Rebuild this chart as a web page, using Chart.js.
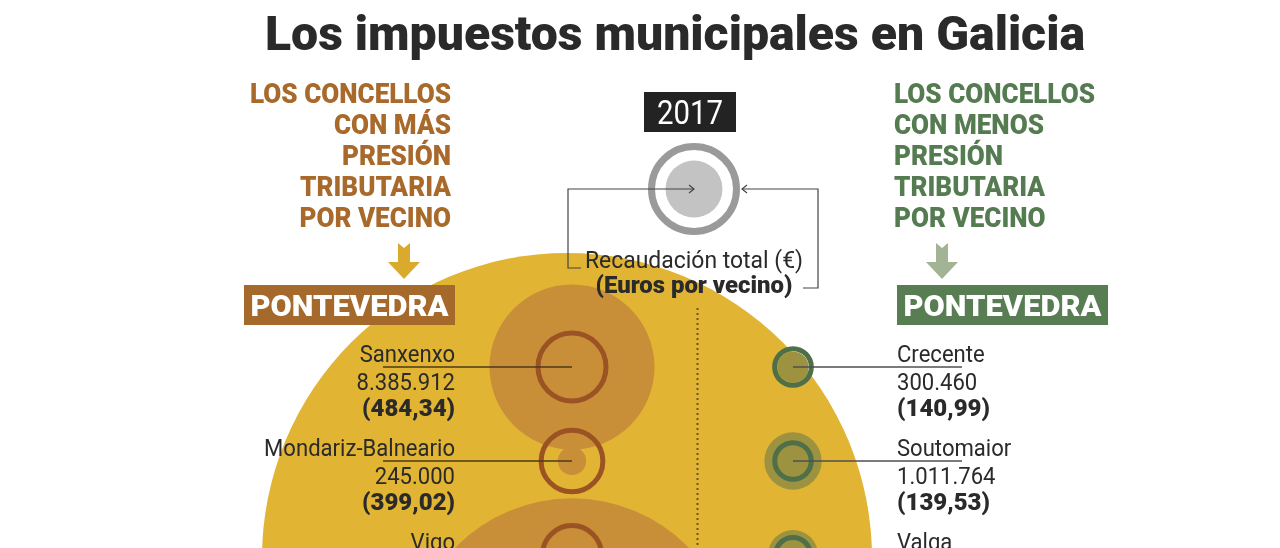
<!DOCTYPE html>
<html>
<head>
<meta charset="utf-8">
<script src="https://cdn.jsdelivr.net/npm/chart.js@4.4.1/dist/chart.umd.min.js"></script>
<style>
html,body{margin:0;padding:0;background:#fff;}
#wrap{width:1280px;height:548px;position:relative;overflow:hidden;}
</style>
</head>
<body>
<div id="wrap"><canvas id="c" width="1280" height="548"></canvas></div>
<script>
// ---- data ----
const titleText = 'Los impuestos municipales en Galicia';
const yearLabel = '2017';
const province = 'PONTEVEDRA';
const leftHeading = ['LOS CONCELLOS', 'CON MÁS', 'PRESIÓN', 'TRIBUTARIA', 'POR VECINO'];
const rightHeading = ['LOS CONCELLOS', 'CON MENOS', 'PRESIÓN', 'TRIBUTARIA', 'POR VECINO'];
const legendTotalLabel = 'Recaudación total (€)';
const legendPerLabel = '(Euros por vecino)';

const leftNames = ['Sanxenxo', 'Mondariz-Balneario', 'Vigo'];
const leftTotal = [8385912, 245000, 32700000];
const leftPerVecino = [484.34, 399.02, 364.00];

const rightNames = ['Crecente', 'Soutomaior', 'Valga'];
const rightTotal = [300460, 1011764, 770000];
const rightPerVecino = [140.99, 139.53, 128.00];

// ---- layout / style ----
const W = 1280, H = 548;
const X0_PX = 572, X_UNIT_PX = 221;
const ROW0_PX = 367, ROW_PX = 94;
const FILL_K = 82.5 / Math.sqrt(8385912);
const RING_K = 34 / Math.sqrt(484.34);
const RING_W = 5;
const C = {
  yellow: '#e1b433', fillL: '#c98e38', ringL: '#9b5324',
  fillR: '#9c9240', ringR: '#4e6f47',
  brown: '#a8692b', green: '#557b51', arrowL: '#d9aa2c', arrowR: '#a3b494',
  dark: '#2a2a2a', dots: '#6f5522'
};

function fmtInt(n) { return String(Math.round(n)).replace(/\B(?=(\d{3})+(?!\d))/g, '.'); }
function fmtDec(v) { return '(' + v.toFixed(2).replace('.', ',') + ')'; }

function fillRows(totals, pers) {
  const ys = [];
  for (let i = 0; i < totals.length; i++) {
    const r = FILL_K * Math.sqrt(totals[i]);
    let y = i;
    if (i > 0) {
      const prevBottom = (i - 1) + (RING_K * Math.sqrt(pers[i - 1]) + RING_W / 2) / ROW_PX;
      y = Math.max(i, prevBottom + (4 + r) / ROW_PX);
    }
    ys.push(y);
  }
  return ys;
}
const leftFillY = fillRows(leftTotal, leftPerVecino);
const rightFillY = fillRows(rightTotal, rightPerVecino);

function txt(ctx, text, x, y, font, color, align, sx) {
  ctx.save();
  ctx.font = font; ctx.fillStyle = color; ctx.textAlign = align; ctx.textBaseline = 'alphabetic';
  ctx.translate(x, y); ctx.scale(sx || 1, 1);
  ctx.fillText(text, 0, 0);
  ctx.restore();
}
function scaleFor(ctx, text, font, width) {
  ctx.save(); ctx.font = font; const w = ctx.measureText(text).width; ctx.restore();
  return width / w;
}
function arrowDown(ctx, cx, top, bottom, color) {
  const stemW = 12, headW = 32, headH = 17, notch = 5;
  ctx.save(); ctx.fillStyle = color; ctx.beginPath();
  ctx.moveTo(cx - stemW / 2, top);
  ctx.lineTo(cx, top + notch);
  ctx.lineTo(cx + stemW / 2, top);
  ctx.lineTo(cx + stemW / 2, bottom - headH);
  ctx.lineTo(cx + headW / 2, bottom - headH);
  ctx.lineTo(cx, bottom);
  ctx.lineTo(cx - headW / 2, bottom - headH);
  ctx.lineTo(cx - stemW / 2, bottom - headH);
  ctx.closePath(); ctx.fill(); ctx.restore();
}
function chevron(ctx, x, y, dir) {
  ctx.beginPath();
  ctx.moveTo(x - dir * 5, y - 4); ctx.lineTo(x, y); ctx.lineTo(x - dir * 5, y + 4);
  ctx.stroke();
}

const deco = {
  id: 'deco',
  beforeDatasetsDraw(chart) {
    const ctx = chart.ctx;
    const xs = chart.scales.x;
    // big yellow disc
    ctx.save();
    ctx.fillStyle = C.yellow;
    ctx.beginPath();
    ctx.arc(xs.getPixelForValue(0) - 5, 558, 305, 0, Math.PI * 2);
    ctx.fill();
    // dotted separator
    const sepX = xs.getPixelForValue(0.5) + 14;
    ctx.fillStyle = C.dots;
    for (let y = 308; y < H; y += 5) ctx.fillRect(sepX, y, 2, 2);
    ctx.restore();
  },
  afterDatasetsDraw(chart) {
    const ctx = chart.ctx;
    const xs = chart.scales.x, ys = chart.scales.y;
    const lx = xs.getPixelForValue(0), rx = xs.getPixelForValue(1);
    const F = '"Roboto", "Liberation Sans", sans-serif';
    ctx.save();
    ctx.lineWidth = 1.5;
    leftNames.forEach((n, i) => {
      const py = ys.getPixelForValue(i);
      ctx.strokeStyle = '#4b3a1c';
      ctx.beginPath(); ctx.moveTo(383, py); ctx.lineTo(lx, py); ctx.stroke();
      txt(ctx, n, 455, py - 5, '400 24px ' + F, C.dark, 'right', 0.92);
      txt(ctx, fmtInt(leftTotal[i]), 455, py + 23, '400 24px ' + F, C.dark, 'right', 0.92);
      txt(ctx, fmtDec(leftPerVecino[i]), 455, py + 49, '900 24px ' + F, C.dark, 'right', 1.0);
    });
    rightNames.forEach((n, i) => {
      const py = ys.getPixelForValue(i);
      ctx.strokeStyle = '#4f4f4f';
      ctx.beginPath(); ctx.moveTo(rx, py); ctx.lineTo(962, py); ctx.stroke();
      txt(ctx, n, 897, py - 5, '400 24px ' + F, C.dark, 'left', 0.92);
      txt(ctx, fmtInt(rightTotal[i]), 897, py + 23, '400 24px ' + F, C.dark, 'left', 0.92);
      txt(ctx, fmtDec(rightPerVecino[i]), 897, py + 49, '900 24px ' + F, C.dark, 'left', 1.0);
    });
    ctx.restore();
  },
  afterDraw(chart) {
    const ctx = chart.ctx;
    const F = '"Roboto", "Liberation Sans", sans-serif';
    ctx.save();
    const tf = '900 48px ' + F;
    txt(ctx, titleText, 265, 50, tf, C.dark, 'left', scaleFor(ctx, titleText, tf, 820));
    const hf = '900 28px ' + F;
    const hs = scaleFor(ctx, leftHeading[0], hf, 201);
    leftHeading.forEach((t, i) => txt(ctx, t, 451, 103 + i * 31, hf, C.brown, 'right', hs));
    rightHeading.forEach((t, i) => txt(ctx, t, 894, 103 + i * 31, hf, C.green, 'left', hs));
    arrowDown(ctx, 404, 243, 279, C.arrowL);
    arrowDown(ctx, 942, 243, 279, C.arrowR);
    const pf = '900 30px ' + F;
    const ps = scaleFor(ctx, province, pf, 198);
    ctx.fillStyle = '#a6692c'; ctx.fillRect(244, 285, 211, 40);
    txt(ctx, province, 349.5, 316, pf, '#ffffff', 'center', ps);
    ctx.fillStyle = '#587d53'; ctx.fillRect(897, 285, 211, 40);
    txt(ctx, province, 1002.5, 316, pf, '#ffffff', 'center', ps);
    ctx.fillStyle = '#232323'; ctx.fillRect(644, 92, 92, 40);
    const yf = '400 33px ' + F;
    txt(ctx, yearLabel, 690, 124, yf, '#ffffff', 'center', scaleFor(ctx, yearLabel, yf, 66));
    ctx.fillStyle = '#c3c3c3';
    ctx.beginPath(); ctx.arc(694, 189, 28.5, 0, Math.PI * 2); ctx.fill();
    ctx.strokeStyle = '#9a9a9a'; ctx.lineWidth = 7;
    ctx.beginPath(); ctx.arc(694, 189, 42.5, 0, Math.PI * 2); ctx.stroke();
    ctx.strokeStyle = '#444'; ctx.lineWidth = 1.2;
    ctx.beginPath(); ctx.moveTo(581, 268); ctx.lineTo(568, 268); ctx.lineTo(568, 189); ctx.lineTo(694, 189); ctx.stroke();
    chevron(ctx, 694, 189, 1);
    ctx.beginPath(); ctx.moveTo(803, 288); ctx.lineTo(818, 288); ctx.lineTo(818, 189); ctx.lineTo(742, 189); ctx.stroke();
    chevron(ctx, 742, 189, -1);
    const l1 = '400 24px ' + F, l2 = '900 23px ' + F;
    txt(ctx, legendTotalLabel, 694, 268, l1, C.dark, 'center', scaleFor(ctx, legendTotalLabel, l1, 218));
    txt(ctx, legendPerLabel, 694, 293, l2, C.dark, 'center', scaleFor(ctx, legendPerLabel, l2, 197));
    ctx.restore();
  }
};

function build() {
  const ringL = leftPerVecino.map((v, i) => ({ x: 0, y: i, r: RING_K * Math.sqrt(v) }));
  const ringR = rightPerVecino.map((v, i) => ({ x: 1, y: i, r: RING_K * Math.sqrt(v) }));
  const fillL = leftTotal.map((v, i) => ({ x: 0, y: leftFillY[i], r: FILL_K * Math.sqrt(v) }));
  const fillR = rightTotal.map((v, i) => ({ x: 1, y: rightFillY[i], r: FILL_K * Math.sqrt(v) }));
  new Chart(document.getElementById('c'), {
    type: 'bubble',
    data: {
      datasets: [
        { label: 'Euros por vecino (más)', data: ringL, backgroundColor: 'rgba(0,0,0,0)', borderColor: C.ringL, borderWidth: RING_W, order: 0, clip: false },
        { label: 'Euros por vecino (menos)', data: ringR, backgroundColor: 'rgba(0,0,0,0)', borderColor: C.ringR, borderWidth: RING_W, order: 0, clip: false },
        { label: 'Recaudación total (más)', data: fillL, backgroundColor: C.fillL, borderWidth: 0, order: 1, clip: false },
        { label: 'Recaudación total (menos)', data: fillR, backgroundColor: C.fillR, borderWidth: 0, order: 1, clip: false }
      ]
    },
    options: {
      responsive: false, animation: false, events: [],
      layout: { padding: 0, autoPadding: false },
      plugins: { legend: { display: false }, tooltip: { enabled: false }, title: { display: false } },
      scales: {
        x: { type: 'linear', display: false, min: -X0_PX / X_UNIT_PX, max: (W - X0_PX) / X_UNIT_PX },
        y: { type: 'linear', display: false, reverse: true, min: -ROW0_PX / ROW_PX, max: (H - ROW0_PX) / ROW_PX }
      }
    },
    plugins: [deco]
  });
}
Promise.all([
  document.fonts.load('400 24px Roboto'),
  document.fonts.load('900 24px Roboto')
]).then(build, build);
</script>
</body>
</html>
